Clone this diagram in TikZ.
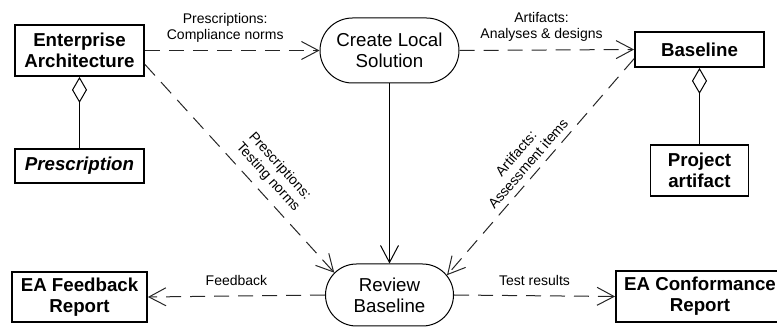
\documentclass[tikz,border=0pt]{standalone}
\usepackage{fontspec}
\setmainfont{Liberation Sans}
\usetikzlibrary{arrows.meta,shapes.misc}
\begin{document}
\begin{tikzpicture}[x=1pt,y=-1pt,
 box/.style={draw, line width=1.8pt, inner sep=0pt, align=center, font=\fontsize{18.7}{21}\selectfont\bfseries},
 act/.style={draw, rounded rectangle, line width=1pt, inner sep=0pt, align=center, font=\fontsize{18.7}{21}\selectfont},
 flow/.style={line width=1pt, draw=black!85, dash pattern=on 15pt off 9pt, -{Straight Barb[length=17pt,width=18pt]}},
 ctrl/.style={line width=1pt, -{Straight Barb[length=17pt,width=18pt]}},
 agg/.style={line width=1pt, -{Diamond[open,length=26pt,width=15pt]}},
 lbl/.style={font=\fontsize{14}{16}\selectfont, align=center, inner sep=2pt, text=black}]
\useasboundingbox (0,0) rectangle (777,328);
\clip (0,0) rectangle (777,328);
\node[box, minimum width=129pt, minimum height=51pt] (ea) at (79.5,50.5) {Enterprise\\Architecture};
\node[box, minimum width=129pt, minimum height=34pt] (pr) at (79.5,166) {\itshape Prescription};
\node[act, minimum width=139pt, minimum height=65pt] (cls) at (389.5,50.5) {Create Local\\Solution};
\node[box, minimum width=129pt, minimum height=35pt] (bl) at (699.5,49.5) {Baseline};
\node[box, minimum width=98pt, minimum height=51pt] (pa) at (699.5,170.5) {Project\\artifact};
\node[act, minimum width=128pt, minimum height=62pt] (rb) at (389.5,295) {Review\\Baseline};
\node[box, minimum width=135pt, minimum height=50pt] (fb) at (79.5,297) {EA Feedback\\Report};
\node[box, minimum width=168pt, minimum height=51pt] (cr) at (700,296.5) {EA Conformance\\Report};

\draw[flow] (ea.east) -- node[lbl, above=6pt, pos=0.46]{Prescriptions:\\Compliance norms} (cls.west);
\draw[flow] (cls.east) -- node[lbl, above=6pt, pos=0.47]{Artifacts:\\Analyses \& designs} (bl.west);
\draw[ctrl] (cls.south) -- (rb.north);
\draw[flow] (ea.-12.7) -- node[lbl, sloped, above=6pt, pos=0.59]{Prescriptions:\\Testing norms} (rb.158);
\draw[flow] (bl.188.7) -- node[lbl, sloped, above=4pt, pos=0.52]{Artifacts:\\Assessment items} (rb.19.7);
\draw[flow] (rb.west) -- node[lbl, above=8pt]{Feedback} (fb.east);
\draw[flow] (rb.east) -- node[lbl, above=8pt]{Test results} (cr.west);
\draw[agg] (pr.north) -- (ea.south);
\draw[agg] (pa.north) -- (bl.south);
\end{tikzpicture}
\end{document}
